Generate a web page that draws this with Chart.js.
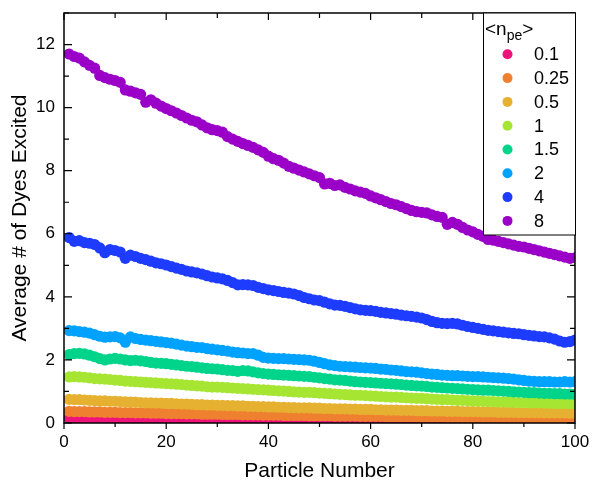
<!doctype html>
<html lang="en">
  <head>
    <meta charset="utf-8">
    <title>Dyes excited vs particle number</title>
    <style>
      body { margin: 0; background: #fff; }
    </style>
  </head>
  <body>
    <canvas id="chart" width="592" height="486"></canvas>
    <script src="https://cdn.jsdelivr.net/npm/chart.js@4.4.0/dist/chart.umd.min.js"></script>
    <script>
      const particle = [
        1, 2, 3, 4, 5, 6, 7, 8, 9, 10,
        11, 12, 13, 14, 15, 16, 17, 18, 19, 20,
        21, 22, 23, 24, 25, 26, 27, 28, 29, 30,
        31, 32, 33, 34, 35, 36, 37, 38, 39, 40,
        41, 42, 43, 44, 45, 46, 47, 48, 49, 50,
        51, 52, 53, 54, 55, 56, 57, 58, 59, 60,
        61, 62, 63, 64, 65, 66, 67, 68, 69, 70,
        71, 72, 73, 74, 75, 76, 77, 78, 79, 80,
        81, 82, 83, 84, 85, 86, 87, 88, 89, 90,
        91, 92, 93, 94, 95, 96, 97, 98, 99, 100
      ];

      const npe = ['0.1', '0.25', '0.5', '1', '1.5', '2', '4', '8'];
      const colors = ['#f0127b', '#ef8030', '#e6b030', '#a6e632', '#00d48a', '#00a2ff', '#1e3cff', '#9a00c8'];

      const n01 = [
        0.15, 0.14, 0.14, 0.14, 0.14, 0.14, 0.14, 0.13, 0.13, 0.13,
        0.13, 0.13, 0.13, 0.13, 0.12, 0.12, 0.12, 0.12, 0.12, 0.12,
        0.12, 0.12, 0.11, 0.11, 0.11, 0.11, 0.11, 0.11, 0.11, 0.11,
        0.10, 0.10, 0.10, 0.10, 0.10, 0.10, 0.10, 0.10, 0.10, 0.10,
        0.09, 0.09, 0.09, 0.09, 0.09, 0.09, 0.09, 0.09, 0.09, 0.09,
        0.09, 0.08, 0.08, 0.08, 0.08, 0.08, 0.08, 0.08, 0.08, 0.08,
        0.08, 0.08, 0.08, 0.08, 0.08, 0.07, 0.07, 0.07, 0.07, 0.07,
        0.07, 0.07, 0.07, 0.07, 0.07, 0.07, 0.07, 0.07, 0.07, 0.07,
        0.07, 0.07, 0.07, 0.07, 0.06, 0.06, 0.06, 0.06, 0.06, 0.06,
        0.06, 0.06, 0.06, 0.06, 0.06, 0.06, 0.06, 0.06, 0.06, 0.06
      ];
      const n025 = [
        0.37, 0.36, 0.36, 0.36, 0.35, 0.35, 0.35, 0.34, 0.34, 0.34,
        0.33, 0.33, 0.33, 0.32, 0.32, 0.32, 0.31, 0.31, 0.31, 0.30,
        0.30, 0.30, 0.30, 0.29, 0.29, 0.29, 0.28, 0.28, 0.28, 0.28,
        0.27, 0.27, 0.27, 0.27, 0.26, 0.26, 0.26, 0.26, 0.25, 0.25,
        0.25, 0.25, 0.24, 0.24, 0.24, 0.24, 0.24, 0.23, 0.23, 0.23,
        0.23, 0.23, 0.22, 0.22, 0.22, 0.22, 0.22, 0.21, 0.21, 0.21,
        0.21, 0.21, 0.20, 0.20, 0.20, 0.20, 0.20, 0.20, 0.19, 0.19,
        0.19, 0.19, 0.19, 0.19, 0.18, 0.18, 0.18, 0.18, 0.18, 0.18,
        0.18, 0.17, 0.17, 0.17, 0.17, 0.17, 0.17, 0.17, 0.17, 0.16,
        0.16, 0.16, 0.16, 0.16, 0.16, 0.16, 0.16, 0.15, 0.15, 0.15
      ];
      const n05 = [
        0.75, 0.74, 0.74, 0.73, 0.72, 0.71, 0.70, 0.70, 0.69, 0.69,
        0.68, 0.67, 0.66, 0.66, 0.65, 0.64, 0.64, 0.63, 0.63, 0.62,
        0.62, 0.61, 0.60, 0.60, 0.59, 0.58, 0.58, 0.57, 0.57, 0.56,
        0.56, 0.55, 0.55, 0.54, 0.54, 0.53, 0.53, 0.52, 0.52, 0.51,
        0.51, 0.50, 0.50, 0.49, 0.49, 0.48, 0.48, 0.48, 0.47, 0.47,
        0.46, 0.46, 0.45, 0.45, 0.45, 0.44, 0.44, 0.43, 0.43, 0.43,
        0.42, 0.42, 0.41, 0.41, 0.41, 0.40, 0.40, 0.40, 0.39, 0.39,
        0.39, 0.38, 0.38, 0.38, 0.37, 0.37, 0.37, 0.36, 0.36, 0.36,
        0.36, 0.35, 0.35, 0.35, 0.34, 0.34, 0.34, 0.34, 0.33, 0.33,
        0.33, 0.33, 0.33, 0.32, 0.32, 0.32, 0.32, 0.32, 0.31, 0.31
      ];
      const n1 = [
        1.46, 1.47, 1.46, 1.45, 1.43, 1.41, 1.40, 1.39, 1.38, 1.36,
        1.35, 1.33, 1.32, 1.31, 1.30, 1.29, 1.28, 1.27, 1.26, 1.25,
        1.24, 1.23, 1.22, 1.20, 1.19, 1.18, 1.17, 1.15, 1.14, 1.14,
        1.13, 1.12, 1.11, 1.10, 1.09, 1.08, 1.07, 1.06, 1.05, 1.04,
        1.03, 1.02, 1.01, 1.00, 0.99, 0.98, 0.97, 0.97, 0.96, 0.95,
        0.94, 0.93, 0.92, 0.91, 0.90, 0.89, 0.88, 0.88, 0.87, 0.86,
        0.85, 0.84, 0.83, 0.82, 0.82, 0.81, 0.80, 0.79, 0.78, 0.78,
        0.77, 0.76, 0.75, 0.74, 0.74, 0.73, 0.72, 0.72, 0.71, 0.70,
        0.70, 0.69, 0.68, 0.68, 0.67, 0.67, 0.66, 0.66, 0.65, 0.65,
        0.64, 0.64, 0.64, 0.63, 0.63, 0.62, 0.62, 0.62, 0.61, 0.61
      ];
      const n15 = [
        2.17, 2.20, 2.21, 2.19, 2.15, 2.10, 2.04, 2.00, 2.03, 2.05,
        2.03, 2.00, 1.98, 1.99, 1.97, 1.95, 1.92, 1.90, 1.89, 1.88,
        1.86, 1.84, 1.82, 1.80, 1.79, 1.77, 1.75, 1.73, 1.72, 1.71,
        1.69, 1.67, 1.66, 1.64, 1.66, 1.65, 1.62, 1.59, 1.57, 1.55,
        1.54, 1.53, 1.52, 1.51, 1.50, 1.49, 1.48, 1.47, 1.45, 1.43,
        1.41, 1.39, 1.37, 1.36, 1.35, 1.33, 1.31, 1.30, 1.29, 1.28,
        1.27, 1.26, 1.25, 1.24, 1.23, 1.22, 1.20, 1.19, 1.18, 1.17,
        1.16, 1.14, 1.13, 1.12, 1.11, 1.10, 1.09, 1.08, 1.07, 1.06,
        1.05, 1.04, 1.04, 1.03, 1.02, 1.01, 1.00, 0.99, 0.98, 0.97,
        0.96, 0.96, 0.95, 0.94, 0.94, 0.93, 0.93, 0.92, 0.92, 0.91
      ];
      const n2 = [
        2.93, 2.92, 2.90, 2.88, 2.85, 2.80, 2.75, 2.72, 2.73, 2.74,
        2.70, 2.56, 2.73, 2.68, 2.65, 2.63, 2.61, 2.59, 2.57, 2.55,
        2.53, 2.50, 2.47, 2.44, 2.42, 2.40, 2.39, 2.36, 2.34, 2.32,
        2.30, 2.28, 2.25, 2.23, 2.22, 2.20, 2.20, 2.15, 2.08, 2.06,
        2.05, 2.04, 2.04, 2.03, 2.02, 2.01, 2.00, 1.99, 1.96, 1.92,
        1.88, 1.84, 1.82, 1.80, 1.79, 1.78, 1.77, 1.76, 1.75, 1.74,
        1.73, 1.71, 1.70, 1.68, 1.67, 1.65, 1.63, 1.62, 1.61, 1.59,
        1.57, 1.55, 1.54, 1.52, 1.51, 1.50, 1.50, 1.49, 1.48, 1.47,
        1.47, 1.46, 1.45, 1.44, 1.43, 1.42, 1.41, 1.39, 1.37, 1.35,
        1.33, 1.32, 1.31, 1.31, 1.31, 1.30, 1.30, 1.31, 1.30, 1.31
      ];
      const n4 = [
        5.88, 5.76, 5.78, 5.72, 5.70, 5.66, 5.55, 5.40, 5.50, 5.47,
        5.42, 5.22, 5.32, 5.28, 5.22, 5.18, 5.13, 5.08, 5.05, 5.01,
        4.96, 4.91, 4.87, 4.82, 4.79, 4.76, 4.72, 4.67, 4.63, 4.60,
        4.57, 4.52, 4.45, 4.38, 4.39, 4.38, 4.36, 4.30, 4.26, 4.22,
        4.20, 4.17, 4.14, 4.12, 4.09, 4.04, 3.98, 3.94, 3.90, 3.88,
        3.83, 3.78, 3.74, 3.73, 3.70, 3.66, 3.62, 3.59, 3.57, 3.56,
        3.54, 3.51, 3.49, 3.47, 3.45, 3.42, 3.40, 3.38, 3.36, 3.33,
        3.28, 3.22, 3.18, 3.16, 3.15, 3.16, 3.14, 3.10, 3.06, 3.03,
        3.00, 2.97, 2.94, 2.92, 2.90, 2.88, 2.86, 2.84, 2.83, 2.80,
        2.78, 2.76, 2.74, 2.73, 2.70, 2.66, 2.60, 2.56, 2.58, 2.63
      ];
      const n8 = [
        11.70, 11.62, 11.57, 11.45, 11.34, 11.25, 11.02, 10.95, 10.90, 10.86,
        10.80, 10.56, 10.52, 10.47, 10.42, 10.17, 10.25, 10.14, 10.05, 9.97,
        9.90, 9.83, 9.75, 9.67, 9.60, 9.55, 9.45, 9.36, 9.30, 9.27,
        9.22, 9.08, 9.00, 8.93, 8.86, 8.80, 8.74, 8.66, 8.58, 8.46,
        8.38, 8.33, 8.24, 8.14, 8.08, 8.02, 7.96, 7.90, 7.84, 7.78,
        7.58, 7.60, 7.53, 7.55, 7.47, 7.42, 7.36, 7.32, 7.28, 7.20,
        7.14, 7.08, 7.02, 6.96, 6.92, 6.86, 6.80, 6.74, 6.70, 6.68,
        6.66, 6.60, 6.55, 6.52, 6.30, 6.36, 6.30, 6.20, 6.12, 6.06,
        5.98, 5.92, 5.82, 5.80, 5.76, 5.72, 5.68, 5.64, 5.60, 5.58,
        5.54, 5.50, 5.46, 5.42, 5.38, 5.34, 5.30, 5.26, 5.22, 5.24
      ];
      const series = [n01, n025, n05, n1, n15, n2, n4, n8];

      const FONT = 'Liberation Sans, Arial, sans-serif';

      // frame + ticks on all four sides (in on left/top/right, out on bottom)
      const frameTicks = {
        id: 'frameTicks',
        afterDatasetsDraw(chart) {
          const {ctx, chartArea: a, scales: {x, y}} = chart;
          ctx.save();
          ctx.strokeStyle = '#000';
          ctx.lineWidth = 1.2;
          ctx.beginPath();
          for (let v = 0; v <= 100; v += 10) {
            const px = x.getPixelForValue(v);
            const len = v % 20 === 0 ? 6 : 4;
            ctx.moveTo(px, a.bottom);
            ctx.lineTo(px, a.bottom + len);
            ctx.moveTo(px, a.top);
            ctx.lineTo(px, a.top + len + 1);
          }
          for (let v = 0; v <= 13; v += 1) {
            const py = y.getPixelForValue(v);
            const len = v % 2 === 0 ? 8 : 5;
            ctx.moveTo(a.left, py);
            ctx.lineTo(a.left + len, py);
            ctx.moveTo(a.right, py);
            ctx.lineTo(a.right - len, py);
          }
          ctx.stroke();
          ctx.lineWidth = 1.5;
          ctx.strokeRect(a.left, a.top, a.right - a.left, a.bottom - a.top);
          ctx.restore();
        }
      };

      // boxed legend in the top right corner with <n_pe> title
      const boxLegend = {
        id: 'boxLegend',
        afterDraw(chart) {
          const {ctx, chartArea: a} = chart;
          const w = 92, h = 222;
          const left = a.right - w, top = a.top;
          ctx.save();
          ctx.fillStyle = '#fff';
          ctx.fillRect(left, top, w, h);
          ctx.strokeStyle = '#000';
          ctx.lineWidth = 1;
          ctx.strokeRect(left + 0.5, top, w, h);

          ctx.fillStyle = '#000';
          ctx.textBaseline = 'alphabetic';
          ctx.font = '19px ' + FONT;
          ctx.fillText('<n', left + 2, top + 22);
          let tx = left + 2 + ctx.measureText('<n').width;
          ctx.font = '14px ' + FONT;
          ctx.fillText('pe', tx, top + 27);
          tx += ctx.measureText('pe').width;
          ctx.font = '19px ' + FONT;
          ctx.fillText('>', tx, top + 22);

          ctx.font = '18px ' + FONT;
          ctx.textBaseline = 'middle';
          chart.data.datasets.forEach((ds, i) => {
            const cy = top + 41.3 + 23.8 * i;
            ctx.fillStyle = ds.backgroundColor;
            ctx.beginPath();
            ctx.arc(left + 24.5, cy, 5, 0, Math.PI * 2);
            ctx.fill();
            ctx.fillStyle = '#000';
            ctx.fillText(ds.label, left + 51, cy + 1);
          });
          ctx.restore();
        }
      };

      const ctx = document.getElementById('chart').getContext('2d');
      const myChart = new Chart(ctx, {
        type: 'scatter',
        data: {
          datasets: series.map((vals, i) => ({
            label: npe[i],
            data: particle.map((p, j) => ({x: p, y: vals[j]})),
            backgroundColor: colors[i],
            borderWidth: 0,
            pointRadius: 5.6,
            pointHoverRadius: 5.6,
            clip: 0,
            order: 7 - i
          }))
        },
        options: {
          responsive: false,
          animation: false,
          events: [],
          layout: { padding: { left: 0, right: 17, top: 13, bottom: 0 } },
          plugins: { legend: { display: false }, tooltip: { enabled: false } },
          scales: {
            x: {
              type: 'linear',
              min: 0,
              max: 100,
              grid: { display: false, drawTicks: false },
              border: { display: false },
              ticks: { stepSize: 20, padding: 9, color: '#000', font: { family: FONT, size: 17 } },
              title: { display: true, text: 'Particle Number', color: '#000', font: { family: FONT, size: 21 }, padding: { bottom: 2 } },
              afterFit: (s) => { s.height = 63; s.paddingLeft = 0; s.paddingRight = 0; }
            },
            y: {
              min: 0,
              max: 13,
              grid: { display: false, drawTicks: false },
              border: { display: false },
              ticks: { stepSize: 2, includeBounds: false, padding: 9, color: '#000', font: { family: FONT, size: 17 } },
              title: { display: true, text: 'Average # of Dyes Excited', color: '#000', font: { family: FONT, size: 21 }, padding: { top: 8 } },
              afterFit: (s) => { s.width = 64; s.paddingTop = 0; s.paddingBottom = 0; }
            }
          }
        },
        plugins: [frameTicks, boxLegend]
      });
    </script>
  </body>
</html>
